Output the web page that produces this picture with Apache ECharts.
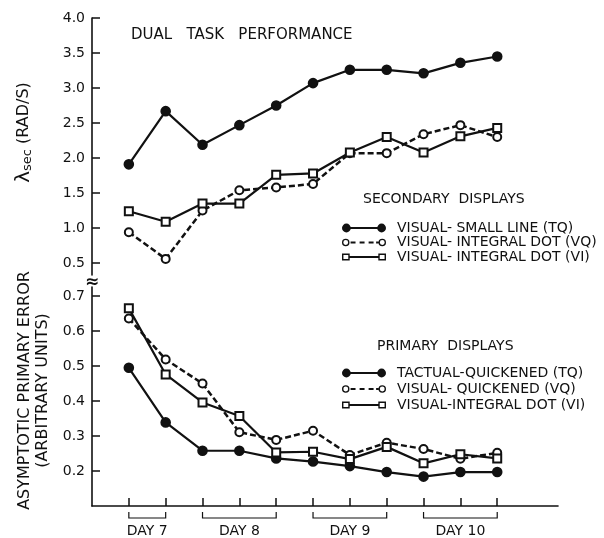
<!DOCTYPE html>
<html>
<head>
<meta charset="utf-8">
<script src="https://cdn.jsdelivr.net/npm/echarts@6/dist/echarts.min.js"></script>
<style>
  html, body { margin: 0; background: #fff; }
  #chart { width: 604px; height: 538px; }
</style>
</head>
<body>
<div id="chart"></div>
<script>
// sessions along x, grouped by day
const sessions = [0, 1, 2, 3, 4, 5, 6, 7, 8, 9, 10]
const dayLabels = ['DAY 7', 'DAY 8', 'DAY 9', 'DAY 10']
const dayStart = [0, 2, 5, 8]
const dayEnd = [1, 4, 7, 10]

// secondary task, lambda sec (rad/s)
const secTQ = [1.91, 2.67, 2.19, 2.47, 2.75, 3.07, 3.26, 3.26, 3.21, 3.36, 3.45]
const secVQ = [0.94, 0.56, 1.25, 1.54, 1.58, 1.63, 2.07, 2.07, 2.34, 2.47, 2.30]
const secVI = [1.24, 1.09, 1.35, 1.35, 1.76, 1.78, 2.08, 2.30, 2.08, 2.31, 2.43]

// asymptotic primary error
const priTQ = [0.495, 0.339, 0.258, 0.258, 0.236, 0.227, 0.214, 0.197, 0.184, 0.197, 0.197]
const priVQ = [0.636, 0.519, 0.450, 0.311, 0.289, 0.315, 0.246, 0.281, 0.263, 0.235, 0.252]
const priVI = [0.665, 0.476, 0.396, 0.357, 0.253, 0.255, 0.234, 0.269, 0.222, 0.248, 0.236]

const secTicks = [0.5, 1.0, 1.5, 2.0, 2.5, 3.0, 3.5, 4.0]
const priTicks = [0.2, 0.3, 0.4, 0.5, 0.6, 0.7]

const INK = '#111'
const FONT = 'DejaVu Sans'
const secMin = 0.33
const priMin = 0.1

const pair = arr => sessions.map((s, i) => [s, arr[i]])

// legend icons: line with a marker at both ends
const iconFilled = 'path://M0,5A4,4 0 1,1 8,5A4,4 0 1,1 0,5ZM32,5A4,4 0 1,1 40,5A4,4 0 1,1 32,5ZM7,4L33,4L33,6L7,6Z'
const iconOpen = 'path://M0,5A3.4,3.4 0 1,1 6.8,5A3.4,3.4 0 1,1 0,5ZM1.2,5A2.2,2.2 0 1,0 5.6,5A2.2,2.2 0 1,0 1.2,5Z' +
  'M33.2,5A3.4,3.4 0 1,1 40,5A3.4,3.4 0 1,1 33.2,5ZM34.4,5A2.2,2.2 0 1,0 38.8,5A2.2,2.2 0 1,0 34.4,5Z' +
  'M7.8,4.1L12.3,4.1L12.3,5.9L7.8,5.9ZM16,4.1L20.5,4.1L20.5,5.9L16,5.9ZM24.2,4.1L28.7,4.1L28.7,5.9L24.2,5.9ZM31,4.1L33.2,4.1L33.2,5.9L31,5.9Z'
const iconSquare = 'path://M0,1.8L7,1.8L7,8.2L0,8.2ZM1.3,3.1L1.3,6.9L5.7,6.9L5.7,3.1Z' +
  'M33,1.8L40,1.8L40,8.2L33,8.2ZM34.3,3.1L34.3,6.9L38.7,6.9L38.7,3.1ZM7,4L33,4L33,6L7,6Z'

const legendItem = (name, icon) => ({ name, icon, itemStyle: { color: INK, borderWidth: 0 } })

const axisBase = {
  axisLine: { onZero: false, lineStyle: { color: INK, width: 1.6 } },
  axisTick: { inside: true, length: 8, lineStyle: { color: INK, width: 1.5 } },
  splitLine: { show: false }
}

const lineSeries = (name, data, xi, symbol, size, dashed) => ({
  name,
  type: 'line',
  xAxisIndex: xi,
  yAxisIndex: xi,
  data,
  symbol,
  symbolSize: size,
  lineStyle: { color: INK, width: dashed ? 2.5 : 2.2, type: dashed ? [6, 3] : 'solid' },
  itemStyle: { color: INK, borderColor: INK, borderWidth: 1.6 },
  emphasis: { disabled: true }
})

const legendText = { fontSize: 14, color: INK, fontFamily: FONT, lineHeight: 14, padding: [0, 0, 0, 6] }
const tickLabel = { margin: 7, fontSize: 14, color: INK, fontFamily: FONT, formatter: v => v.toFixed(1) }

const chart = echarts.init(document.getElementById('chart'))
chart.setOption({
  animation: false,
  backgroundColor: '#fff',
  textStyle: { fontFamily: FONT, color: INK },
  title: [
    { text: 'DUAL   TASK   PERFORMANCE', left: 131, top: 28, padding: 0,
      textStyle: { fontSize: 15, fontWeight: 'normal', color: INK, fontFamily: FONT } },
    { text: 'SECONDARY  DISPLAYS', left: 363, top: 192, padding: 0,
      textStyle: { fontSize: 14, fontWeight: 'normal', color: INK, fontFamily: FONT } },
    { text: 'PRIMARY  DISPLAYS', left: 377, top: 339, padding: 0,
      textStyle: { fontSize: 14, fontWeight: 'normal', color: INK, fontFamily: FONT } }
  ],
  legend: [
    {
      orient: 'vertical', left: 342, top: 221, padding: 0, itemGap: 0.5,
      itemWidth: 44, itemHeight: 11, selectedMode: false,
      textStyle: legendText,
      data: [
        legendItem('VISUAL- SMALL LINE (TQ)', iconFilled),
        legendItem('VISUAL- INTEGRAL DOT (VQ)', iconOpen),
        legendItem('VISUAL- INTEGRAL DOT (VI)', iconSquare)
      ]
    },
    {
      orient: 'vertical', left: 342, top: 366, padding: 0, itemGap: 2,
      itemWidth: 44, itemHeight: 11, selectedMode: false,
      textStyle: legendText,
      data: [
        legendItem('TACTUAL-QUICKENED (TQ)', iconFilled),
        legendItem('VISUAL- QUICKENED (VQ)', iconOpen),
        legendItem('VISUAL-INTEGRAL DOT (VI)', iconSquare)
      ]
    }
  ],
  grid: [
    { left: 92, right: 46, top: 18, height: 257 },
    { left: 92, right: 46, top: 287, bottom: 32 }
  ],
  xAxis: [
    { type: 'value', gridIndex: 0, min: -1, max: 11.65, show: false },
    {
      ...axisBase, type: 'value', gridIndex: 1, min: -1, max: 11.65,
      axisTick: { ...axisBase.axisTick, customValues: sessions },
      axisLabel: { show: false }
    }
  ],
  yAxis: [
    {
      ...axisBase, type: 'value', gridIndex: 0, min: secMin, max: 4.0,
      axisTick: { ...axisBase.axisTick, customValues: secTicks },
      axisLabel: { ...tickLabel, customValues: secTicks },
      name: '{l|λ}{s|sec}{n| (RAD/S)}',
      nameLocation: 'middle', nameGap: 58,
      nameTextStyle: {
        padding: [0, 0, 0, 28],
        rich: {
          l: { fontSize: 20, fontFamily: FONT, color: INK },
          s: { fontSize: 13, fontFamily: FONT, color: INK, padding: [8, 0, 0, 0] },
          n: { fontSize: 16, fontFamily: FONT, color: INK }
        }
      }
    },
    {
      ...axisBase, type: 'value', gridIndex: 1, min: priMin, max: 0.726,
      axisTick: { ...axisBase.axisTick, customValues: priTicks },
      axisLabel: { ...tickLabel, customValues: priTicks },
      name: 'ASYMPTOTIC PRIMARY ERROR\n(ARBITRARY UNITS)',
      nameLocation: 'middle', nameGap: 40,
      nameTextStyle: { fontSize: 16, lineHeight: 18, color: INK, fontFamily: FONT, padding: [0, 0, 0, 12] }
    },
    {
      // axis break mark
      type: 'value', gridIndex: 1, position: 'left', min: priMin, max: 0.726,
      axisLine: { show: false, onZero: false }, axisTick: { show: false }, axisLabel: { show: false },
      splitLine: { show: false },
      name: '≈', nameLocation: 'end', nameGap: -4,
      nameTextStyle: { fontSize: 17, fontWeight: 'bold', color: INK, fontFamily: FONT, align: 'center' }
    }
  ],
  series: [
    lineSeries('VISUAL- SMALL LINE (TQ)', pair(secTQ), 0, 'circle', 9, false),
    lineSeries('VISUAL- INTEGRAL DOT (VQ)', pair(secVQ), 0, 'emptyCircle', 8, true),
    lineSeries('VISUAL- INTEGRAL DOT (VI)', pair(secVI), 0, 'emptyRect', 8, false),
    lineSeries('TACTUAL-QUICKENED (TQ)', pair(priTQ), 1, 'circle', 9, false),
    lineSeries('VISUAL- QUICKENED (VQ)', pair(priVQ), 1, 'emptyCircle', 8, true),
    lineSeries('VISUAL-INTEGRAL DOT (VI)', pair(priVI), 1, 'emptyRect', 8, false),
    {
      // day brackets under the x axis
      type: 'custom',
      xAxisIndex: 1,
      yAxisIndex: 1,
      silent: true,
      clip: false,
      data: dayStart.map((s, i) => [s, dayEnd[i], priMin]),
      encode: { x: [0, 1], y: 2 },
      renderItem(params, api) {
        const a = api.coord([api.value(0), priMin])
        const b = api.coord([api.value(1), priMin])
        const y = a[1]
        return {
          type: 'group',
          children: [
            {
              type: 'polyline',
              shape: { points: [[a[0], y + 6], [a[0], y + 12], [b[0], y + 12], [b[0], y + 6]] },
              style: { stroke: INK, lineWidth: 1.2, fill: null }
            },
            {
              type: 'text',
              x: (a[0] + b[0]) / 2,
              y: y + 25,
              style: {
                text: dayLabels[params.dataIndex], fill: INK,
                fontSize: 14, fontFamily: FONT,
                align: 'center', verticalAlign: 'middle'
              }
            }
          ]
        }
      }
    }
  ]
})
</script>
</body>
</html>
